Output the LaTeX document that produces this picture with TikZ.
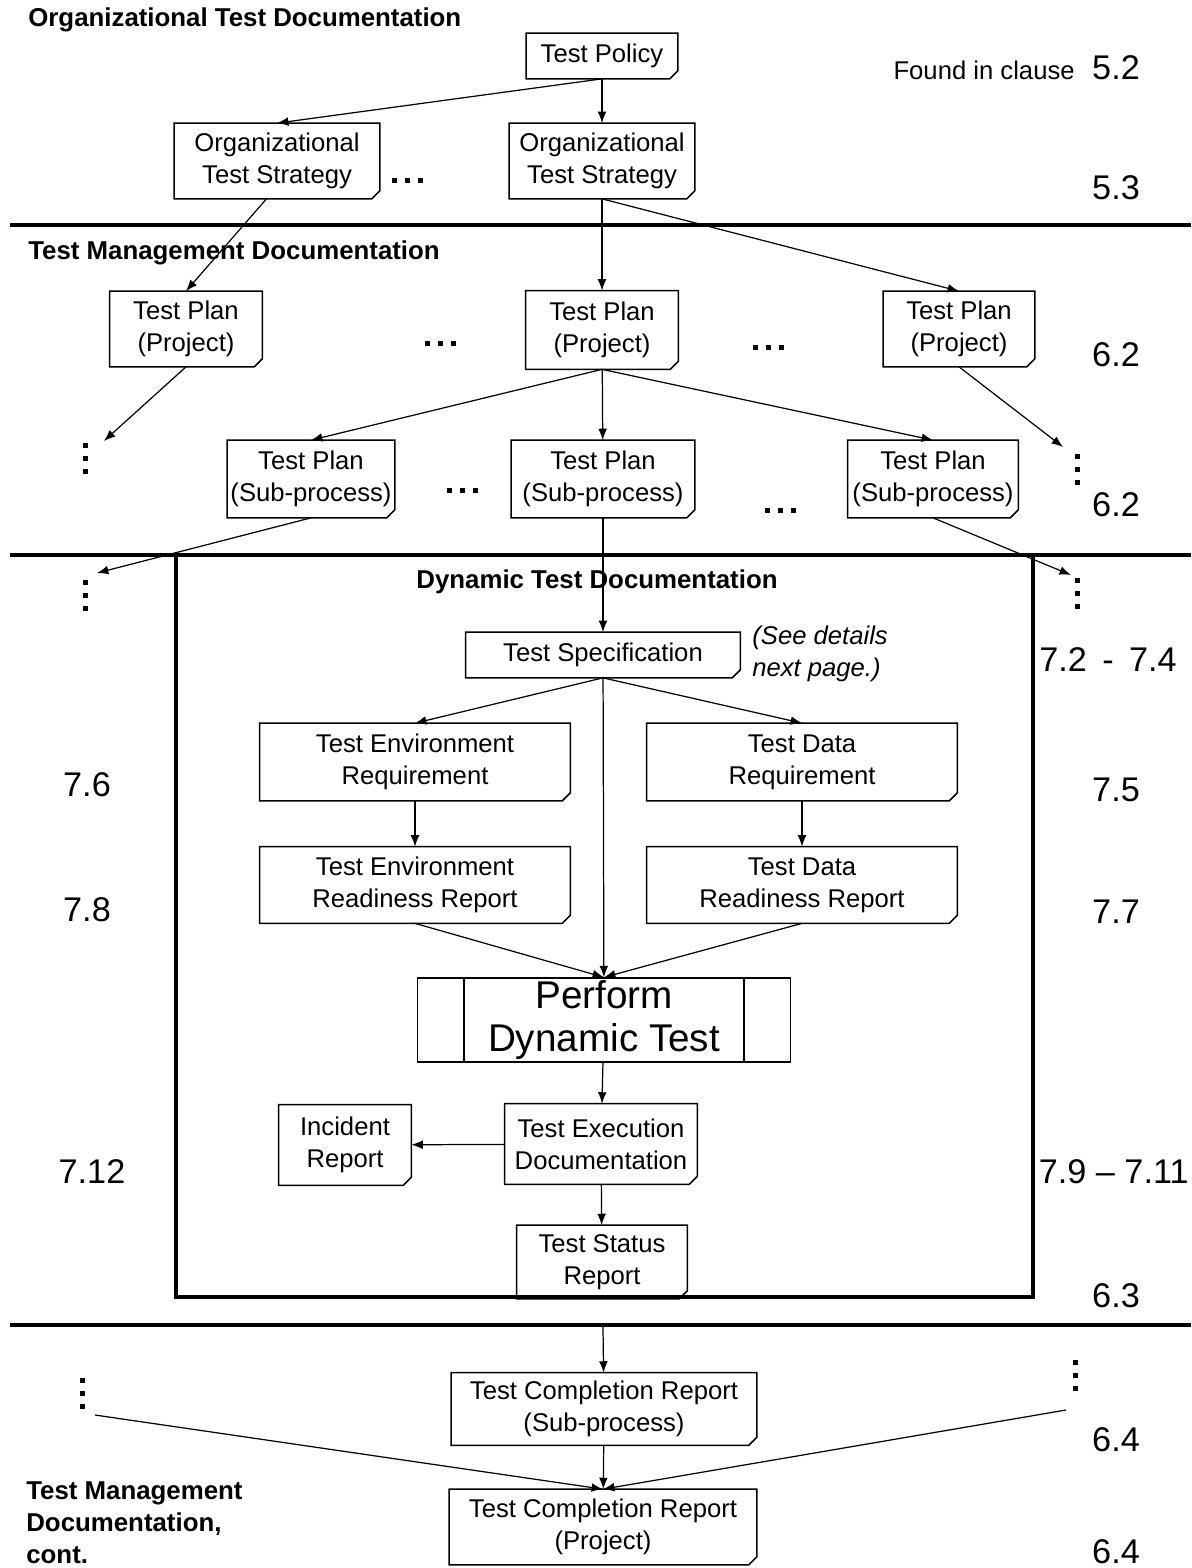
\documentclass[tikz,border=0pt]{standalone}
\usepackage{fontspec}
\setmainfont{Liberation Sans}
\usetikzlibrary{arrows.meta}
\newcommand{\boxfont}{\fontsize{14.6}{18.1}\selectfont}
\newcommand{\clausefont}{\fontsize{19.5}{22}\selectfont}
\newcommand{\headfont}{\fontsize{14.7}{18.2}\selectfont\bfseries}

\begin{document}
\begin{tikzpicture}[x=0.02cm,y=-0.02cm,
		doc/.style 2 args={align=center,inner sep=0pt,font=\boxfont,
			minimum width=#1*0.02cm,minimum height=#2*0.02cm},
		proc/.style={draw,line width=0.8pt,align=center,inner sep=0pt,
			font=\fontsize{22}{24.5}\selectfont,minimum width=7.46cm,minimum height=1.68cm},
		head/.style={font=\headfont,align=left,anchor=west,inner sep=0pt},
		clause/.style={font=\clausefont,inner sep=0pt},
		sep/.style={line width=2.3pt},
		link/.style={->,line width=0.7pt},
		>={Latex[length=6.5pt,width=5pt]}]
	\useasboundingbox (0,0) rectangle (1191,1568);
	%% separators and frame
	\draw[sep] (10,225) -- (1191,225);
	\draw[sep] (10,555) -- (1191,555);
	\draw[sep] (10,1325) -- (1191,1325);
	\draw[line width=2pt] (176,555) rectangle (1033,1297);
	%% headings
	\node (h1) at (28,20) [head] {Organizational Test Documentation};
	\node (h2) at (28,253) [head] {Test Management Documentation};
	\node (h3) at (597,582) [head,anchor=center] {Dynamic Test Documentation};
	\node (h4) at (26,1523) [head] {Test Management\\Documentation,\\cont.};
	\node (see) at (752,654) [anchor=west,align=left,inner sep=0pt,font=\boxfont\itshape] {(See details\\next page.)};
	\node (found) at (1075,70) [anchor=east,inner sep=0pt,font=\boxfont] {Found in clause};
	%% clause numbers
	\node (c52) at (1116,68) [clause] {5.2};
	\node (c53) at (1116,188) [clause] {5.3};
	\node (c62a) at (1116,355) [clause] {6.2};
	\node (c62b) at (1116,505) [clause] {6.2};
	\node (c72) at (1108,660) [clause] {7.2\hspace{0.45em}-\hspace{0.45em}7.4};
	\node (c75) at (1116,790) [clause] {7.5};
	\node (c76) at (87,785) [clause] {7.6};
	\node (c77) at (1116,912) [clause] {7.7};
	\node (c78) at (87,910) [clause] {7.8};
	\node (c79) at (1189,1172) [clause,anchor=east] {7.9 -- 7.11};
	\node (c712) at (92,1172) [clause] {7.12};
	\node (c63) at (1116,1296) [clause] {6.3};
	\node (c64a) at (1116,1440) [clause] {6.4};
	\node (c64b) at (1116,1552) [clause] {6.4};
	%% documents
	\node (pol) at (602,56) [doc={151}{45}] {Test Policy};
	\node (ots1) at (277,161) [doc={205}{75}] {Organizational\\Test Strategy};
	\node (ots2) at (602,161) [doc={185}{75}] {Organizational\\Test Strategy};
	\node (tpp1) at (186,329) [doc={152}{75}] {Test Plan\\(Project)};
	\node (tpp2) at (602,330) [doc={152}{78}] {Test Plan\\(Project)};
	\node (tpp3) at (959,329) [doc={151}{75}] {Test Plan\\(Project)};
	\node (tps1) at (311,479) [doc={167}{77}] {Test Plan\\(Sub-process)};
	\node (tps2) at (603,479) [doc={183}{77}] {Test Plan\\(Sub-process)};
	\node (tps3) at (933,479) [doc={170}{77}] {Test Plan\\(Sub-process)};
	\node (spec) at (603,655) [doc={274}{45}] {Test Specification};
	\node (envreq) at (415,762) [doc={310}{77}] {Test Environment\\Requirement};
	\node (datareq) at (802,762) [doc={310}{77}] {Test Data\\Requirement};
	\node (envrdy) at (415,885) [doc={310}{76}] {Test Environment\\Readiness Report};
	\node (datardy) at (802,885) [doc={310}{76}] {Test Data\\Readiness Report};
	\node (perform) at (604,1020) [proc] {Perform\\Dynamic Test};
	\node (exec) at (601,1144) [doc={192}{80}] {Test Execution\\Documentation};
	\node (incident) at (345,1145) [doc={132}{80}] {Incident\\Report};
	\node (status) at (602,1262) [doc={170}{73}] {Test Status\\Report};
	\node (tcrsub) at (604,1409) [doc={305}{72}] {Test Completion Report\\(Sub-process)};
	\node (tcrproj) at (603,1527) [doc={307}{75}] {Test Completion Report\\(Project)};
	%% folded corner outlines
	\foreach \n in {pol,ots1,ots2,tpp1,tpp2,tpp3,tps1,tps2,tps3,spec,envreq,datareq,
			envrdy,datardy,exec,incident,status,tcrsub,tcrproj} {
		\draw[line width=0.8pt] (\n.south west) -- (\n.north west) -- (\n.north east)
			-- ([shift={(0,-8)}]\n.south east) -- ([shift={(-8,0)}]\n.south east) -- cycle;
		\draw[line width=0.6pt] ([shift={(0,-8)}]\n.south east)
			.. controls ([shift={(-6,-2)}]\n.south east) .. ([shift={(-8,0)}]\n.south east);
	}
	\draw[line width=0.8pt] ([shift={(47,0)}]perform.north west) -- ([shift={(47,0)}]perform.south west);
	\draw[line width=0.8pt] ([shift={(-47,0)}]perform.north east) -- ([shift={(-47,0)}]perform.south east);
	%% dots
	\foreach \x/\y in {407/180,440/343,768/347,462/490,780/510}
		\foreach \d in {-13,0,13}
			\fill (\x+\d-2.5,\y-2.5) rectangle ++(5,5);
	\foreach \x/\y in {85/458,85/595,1077/469,1077/593,82/1393,1075/1375}
		\foreach \d in {-13,0,13}
			\fill (\x-2.5,\y+\d-2.5) rectangle ++(5,5);
	\coordinate (ul) at (104,441);
	\coordinate (ur) at (1063,447);
	\coordinate (ml) at (97,573);
	\coordinate (mr) at (1071,575);
	\coordinate (bl) at (95,1415);
	\coordinate (br) at (1066,1410);
	\coordinate (cut) at (603,1327);
	%% arrows
	\draw[link] (pol) -- (ots2);
	\draw[link] (pol.south) -- (ots1.north);
	\draw[link] ([xshift=-6pt]ots1.south) -- (tpp1.north);
	\draw[link] (ots2) -- (tpp2);
	\draw[link] (ots2.south) -- (tpp3.north);
	\draw[link] (tpp1.south) -- (ul);
	\draw[link] (tpp3.south) -- (ur);
	\draw[link] (tpp2.south) -- (tps1.north);
	\draw[link] (tpp2) -- (tps2);
	\draw[link] (tpp2.south) -- (tps3.north);
	\draw[link] (tps1.south) -- (ml);
	\draw[link] (tps3.south) -- (mr);
	\draw[link] (tps2) -- (spec);
	\draw[link] (spec.south) -- (envreq.north);
	\draw[link] (spec.south) -- (datareq.north);
	\draw[link] (spec) -- (perform);
	\draw[link] (envreq) -- (envrdy);
	\draw[link] (datareq) -- (datardy);
	\draw[link] (envrdy.south) -- (perform.north);
	\draw[link] (datardy.south) -- (perform.north);
	\draw[link] (perform) -- (exec);
	\draw[link] (exec) -- (incident);
	\draw[link] (exec) -- (status);
	\draw[link] (cut) -- (tcrsub);
	\draw[link] (tcrsub) -- (tcrproj);
	\draw[link] (bl) -- (tcrproj.north);
	\draw[link] (br) -- (tcrproj.north);
\end{tikzpicture}
\end{document}
